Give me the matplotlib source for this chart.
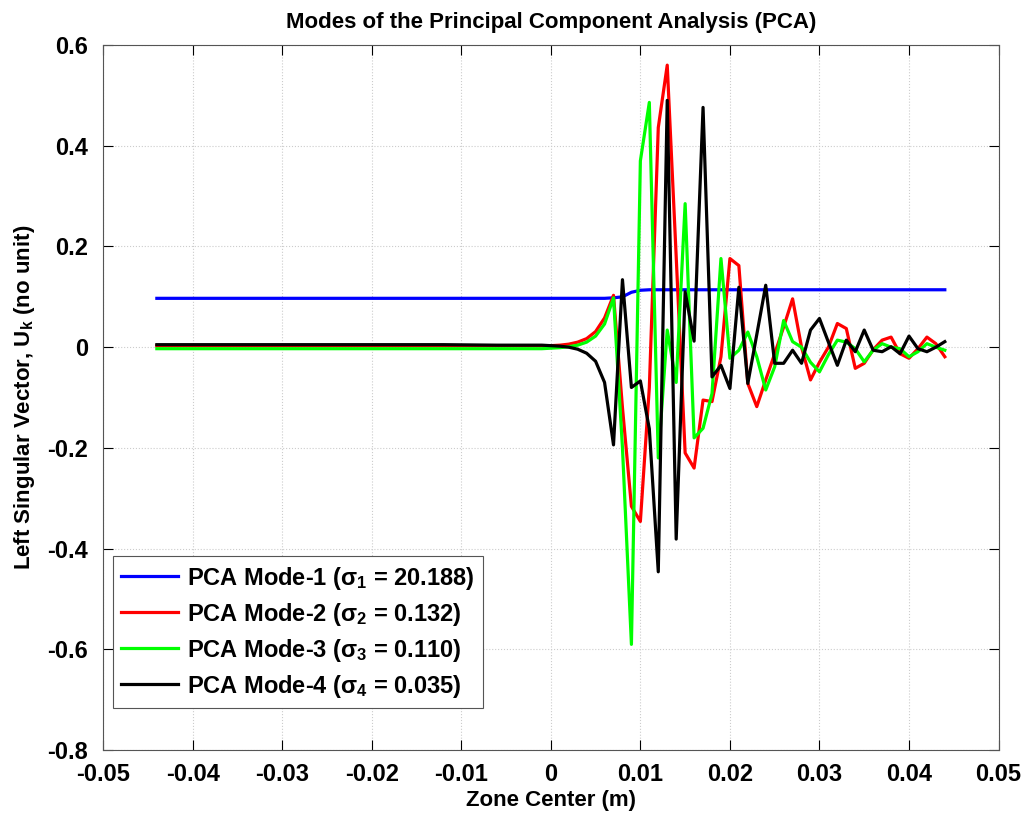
import matplotlib
matplotlib.use("Agg")
import matplotlib.pyplot as plt
import numpy as np

plt.rcParams["font.family"] = ["Liberation Sans", "DejaVu Sans"]
plt.rcParams["font.weight"] = "bold"
plt.rcParams["mathtext.fontset"] = "custom"
plt.rcParams["mathtext.rm"] = "Liberation Sans:bold"
plt.rcParams["mathtext.it"] = "Liberation Sans:bold"
plt.rcParams["mathtext.bf"] = "Liberation Sans:bold"

# zone centres in mm (coarse on the flat part, 1 mm in the active part)
zone_mm = [-44, -36, -28, -20, -12, -6, -3, -1,
           0, 1, 2, 3, 4, 5, 6, 7, 8, 9, 10, 11, 12, 13, 14, 15, 16, 17, 18, 19,
           20, 21, 22, 23, 24, 25, 26, 27, 28, 29, 30, 31, 32, 33, 34, 35, 36,
           37, 38, 39, 40, 41, 42, 43, 44]

mode1 = [0.097, 0.097, 0.097, 0.097, 0.097, 0.097, 0.097, 0.097,
         0.097, 0.097, 0.097, 0.097, 0.097, 0.097, 0.097, 0.098, 0.100, 0.109, 0.113, 0.114,
         0.114, 0.114, 0.114, 0.114, 0.114, 0.114, 0.114, 0.114, 0.114, 0.114, 0.114, 0.114,
         0.114, 0.114, 0.114, 0.114, 0.114, 0.114, 0.114, 0.114, 0.114, 0.114, 0.114, 0.114,
         0.114, 0.114, 0.114, 0.114, 0.114, 0.114, 0.114, 0.114, 0.114]

mode2 = [0.003, 0.003, 0.003, 0.003, 0.003, 0.003, 0.003, 0.003,
         0.003, 0.004, 0.006, 0.010, 0.017, 0.031, 0.058, 0.103, -0.120, -0.316, -0.346, -0.080,
         0.436, 0.560, 0.180, -0.210, -0.240, -0.105, -0.108, -0.019,
         0.176, 0.162, -0.072, -0.118, -0.065, -0.013, 0.040, 0.096, 0.000, -0.065, -0.030,
         0.000, 0.047, 0.037, -0.042, -0.032, -0.005, 0.014, 0.020, -0.013, -0.022, -0.003,
         0.020, 0.007, -0.019]

mode3 = [-0.003, -0.003, -0.003, -0.003, -0.003, -0.003, -0.003, -0.003,
         -0.002, -0.001, 0.001, 0.004, 0.010, 0.022, 0.046, 0.098, -0.200, -0.590, 0.370, 0.486,
         -0.220, 0.034, -0.070, 0.285, -0.180, -0.161, -0.092, 0.176,
         -0.022, -0.006, 0.030, -0.019, -0.085, -0.039, 0.053, 0.011, 0.000, -0.030, -0.049,
         -0.015, 0.014, 0.010, -0.003, -0.029, -0.006, 0.007, 0.000, -0.003, -0.019, -0.009,
         0.007, 0.000, -0.006]

mode4 = [0.005, 0.005, 0.005, 0.005, 0.005, 0.004, 0.004, 0.004,
         0.003, 0.002, 0.000, -0.004, -0.012, -0.028, -0.070, -0.194, 0.134, -0.080, -0.067, -0.162,
         -0.446, 0.490, -0.381, 0.110, 0.012, 0.476, -0.059, -0.036,
         -0.082, 0.119, -0.072, 0.025, 0.123, -0.032, -0.032, -0.006, -0.032, 0.034, 0.057,
         0.010, -0.036, 0.014, -0.009, 0.034, -0.006, -0.009, 0.001, -0.013, 0.022, -0.003,
         -0.009, 0.000, 0.011]

labels = [r"PCA Mode-1 ($\sigma_1$ = 20.188)",
          r"PCA Mode-2 ($\sigma_2$ = 0.132)",
          r"PCA Mode-3 ($\sigma_3$ = 0.110)",
          r"PCA Mode-4 ($\sigma_4$ = 0.035)"]
colors = ["#0000ff", "#ff0000", "#00ff00", "#000000"]

x = np.array(zone_mm) / 1000.0

fig = plt.figure(figsize=(10.21, 8.18), dpi=100)
ax = fig.add_axes([0.101, 0.083, 0.877, 0.862])

for y, c, lab in zip([mode1, mode2, mode3, mode4], colors, labels):
    ax.plot(x, y, color=c, lw=2.3, label=lab)

ax.set_xlim(-0.05, 0.05)
ax.set_ylim(-0.8, 0.6)
ax.set_xticks(np.round(np.arange(-0.05, 0.051, 0.01), 2))
ax.set_xticklabels(["-0.05", "-0.04", "-0.03", "-0.02", "-0.01", "0",
                    "0.01", "0.02", "0.03", "0.04", "0.05"])
ax.set_yticks(np.round(np.arange(-0.8, 0.61, 0.2), 1))
ax.set_yticklabels(["-0.8", "-0.6", "-0.4", "-0.2", "0", "0.2", "0.4", "0.6"])
ax.tick_params(direction="in", length=7, width=0.8, top=True, right=True,
               labelsize=17, colors="#000000")
ax.tick_params(axis="x", pad=9)
ax.tick_params(axis="y", pad=11)
for lab in ax.get_xticklabels() + ax.get_yticklabels():
    lab.set_fontweight("bold")
for s in ax.spines.values():
    s.set_color("#555555")
    s.set_linewidth(0.8)
ax.grid(True, color="#cccccc", linestyle=":", linewidth=0.8)

ax.set_title("Modes of the Principal Component Analysis (PCA)",
             fontsize=16, fontweight="bold", pad=12)
ax.set_xlabel("Zone Center (m)", fontsize=16, fontweight="bold", labelpad=3)
ax.set_ylabel(r"Left Singular Vector, U$_\mathregular{k}$ (no unit)",
              fontsize=16, fontweight="bold", labelpad=7)

leg = ax.legend(loc="lower left", bbox_to_anchor=(0.011, 0.06),
                handlelength=2.4, handletextpad=0.4, labelspacing=0.38,
                borderpad=0.35, borderaxespad=0,
                fancybox=False, framealpha=1, edgecolor="#555555",
                prop={"weight": "bold", "size": 17})
leg.get_frame().set_linewidth(0.8)

fig.savefig("out.png", dpi=100)
